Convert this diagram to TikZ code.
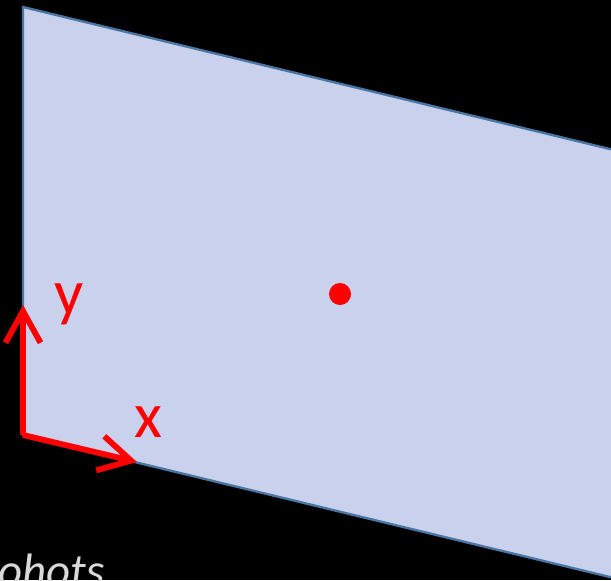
\documentclass[tikz,border=0pt]{standalone}
\usepackage{fontspec}
\setmainfont{Carlito}
\usepackage{tikz}
\usetikzlibrary{arrows.meta}
\definecolor{planefill}{HTML}{C9D1EC}
\definecolor{planeedge}{HTML}{4A76A4}
\definecolor{axisred}{HTML}{FF0000}
\definecolor{captiongray}{HTML}{D9D9D9}
\tikzset{
    plane style/.style={fill=planefill, draw=planeedge, line width=2pt, line join=miter},
    axis style/.style={-{Straight Barb[length=0.95cm, width=1.05cm]}, draw=axisred, line width=5pt},
    axis label/.style={text=axisred, inner sep=0pt, font=\fontsize{55}{60}\selectfont},
    dot style/.style={circle, fill=axisred, inner sep=0pt, minimum size=0.66cm},
    caption style/.style={text=captiongray, inner sep=0pt, anchor=base west, font=\fontsize{40}{44}\selectfont\itshape},
}

\begin{document}
\begin{tikzpicture}[x=0.03cm, y=-0.03cm]
        \fill[black] (0,0) rectangle (611,580);
        \useasboundingbox (0,0) rectangle (611,580);

        % plane corners
        \coordinate (tl) at (23,7);
        \coordinate (tr) at (614,150);
        \coordinate (br) at (614,578);
        \coordinate (origin) at (23,435);
        \draw [plane style] (origin) -- (tl) -- (tr) -- (br) -- cycle;

        % axes
        \coordinate (yend) at (23,305);
        \coordinate (xend) at (137,462);
        \draw [axis style] (origin) -- (yend);
        \draw [axis style] (origin) -- (xend);
        \node (ylabel) [axis label] at (69,304) {y};
        \node (xlabel) [axis label] at (148,422) {x};

        \node (point) [dot style] at (340,294) {};

        \node (caption) [caption style] at (-2,586) {ohots};
    \end{tikzpicture}
\end{document}
